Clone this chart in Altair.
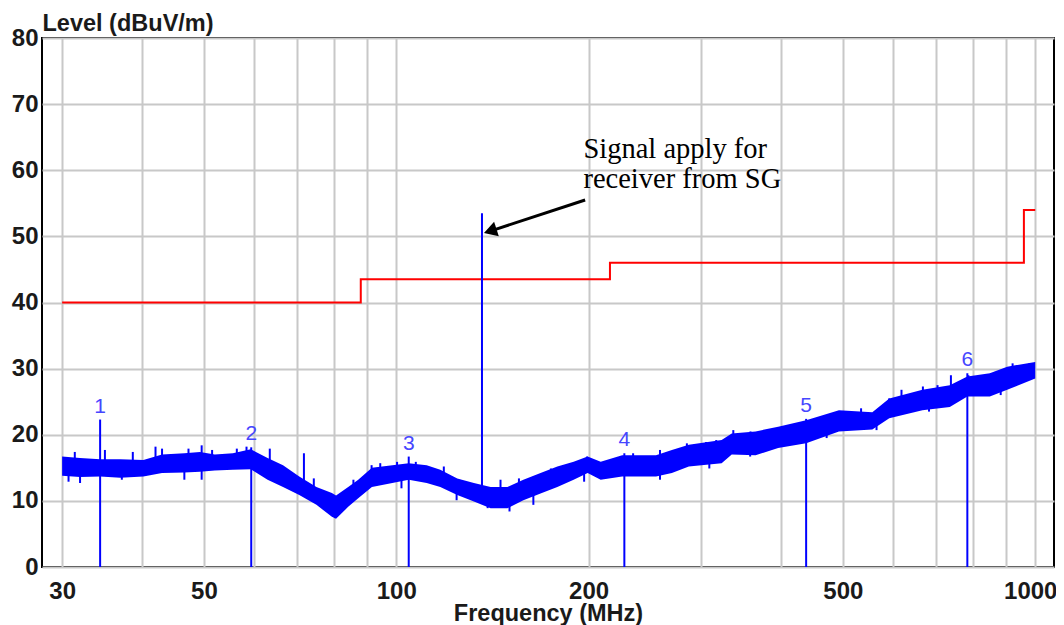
import altair as alt
import pandas as pd

# ---- data ----
trace_freq = [30, 32, 34.4, 37, 40.2, 43, 46.6, 49.3, 52, 55.5, 59.2, 62.9, 66.5, 70.5,
              75, 79.3, 80.5, 84.1, 87.2, 91.6, 98.6, 104.6, 111.6, 117.2, 124.6, 132.3,
              140.5, 149.3, 158.1, 168.2, 178.7, 189.5, 199.3, 208.9, 225.7, 255, 270,
              287, 323, 335, 365, 396, 438, 493, 556, 591, 666, 735, 783, 849, 904, 1000]
trace_low = [13.8, 13.6, 13.7, 13.5, 13.7, 14.2, 14.3, 14.4, 14.6, 14.7, 14.8, 13.2, 12.1, 10.9,
             9.4, 7.6, 7.3, 9.1, 10.4, 12.1, 12.7, 13.2, 12.7, 12.1, 10.9, 9.9,
             8.9, 8.9, 10.1, 11.1, 12.1, 13.2, 14.2, 13.2, 13.7, 13.7, 14.2,
             15.2, 15.7, 17.0, 16.9, 18.0, 18.7, 20.5, 20.8, 22.5, 23.7, 24.2, 25.8, 25.8, 26.8, 28.5]
trace_high = [16.7, 16.5, 16.3, 16.3, 16.2, 17.0, 17.2, 17.4, 17.0, 17.2, 17.8, 16.5, 15.4, 13.7,
              12.1, 11.2, 10.8, 12.1, 13.2, 15.0, 15.4, 15.7, 15.4, 14.7, 13.4, 12.7,
              12.1, 12.1, 13.2, 14.2, 15.2, 15.9, 16.7, 15.9, 16.9, 16.9, 17.7,
              18.5, 19.2, 20.2, 20.5, 21.2, 22.2, 23.7, 23.4, 25.5, 26.8, 27.5, 28.8, 29.3, 30.3, 31.0]

# noise spikes sticking out of the trace band (frequency, band centre, tip)
spike_freq = [31.4, 35.0, 38.7, 42.0, 43.0, 47.3, 49.6, 51.5, 56.3, 58.3, 63.4, 71.7,
              30.7, 32.0, 37.2, 46.6, 49.6,
              74.3, 85.7, 91.5, 94.4, 100.3, 107.3, 118.7, 145.6, 155.6, 165.0, 174.6,
              80.2, 101.9, 124.3, 139.0, 150.4, 163.9,
              182.6, 198.8, 217.3, 234.8, 258.7, 285, 305.4, 316.8, 336.9, 358.4, 395.6,
              196.8, 218.6, 258.7, 309, 358,
              502.5, 533.9, 590.7, 617.6, 667.1, 703.3, 738, 786, 866, 921.7, 979,
              471.6, 564.5, 682, 883]
spike_base = [15.2, 15.0, 15.0, 15.5, 15.6, 15.8, 15.9, 15.8, 16.0, 16.2, 14.8, 12.3,
              15.2, 15.1, 14.9, 15.7, 15.9,
              11.5, 10.6, 13.5, 14.0, 14.4, 14.4, 13.4, 10.4, 11.3, 12.3, 13.2,
              9.2, 14.4, 12.1, 10.5, 10.5, 12.2,
              14.0, 15.4, 14.8, 15.3, 15.3, 16.7, 17.2, 17.3, 18.6, 18.7, 19.6,
              15.4, 14.8, 15.3, 17.3, 18.7,
              22.1, 22.2, 24.0, 24.4, 25.2, 25.5, 26.0, 27.3, 27.7, 28.6, 29.5,
              21.5, 22.1, 25.3, 27.8]
spike_tip = [17.4, 17.7, 17.4, 18.2, 17.9, 17.9, 18.4, 17.7, 17.9, 18.2, 17.9, 17.2,
             12.9, 12.7, 13.2, 13.2, 13.2,
             13.4, 13.2, 15.4, 15.7, 15.9, 15.9, 15.2, 13.2, 13.4, 13.7, 14.9,
             7.4, 11.9, 10.1, 8.9, 8.4, 9.4,
             15.4, 16.7, 16.2, 17.2, 17.7, 18.7, 18.9, 19.2, 20.7, 20.5, 21.0,
             12.9, 13.7, 13.2, 14.9, 16.7,
             23.5, 24.0, 25.5, 26.8, 27.3, 27.5, 29.0, 29.0, 29.5, 30.8, 30.8,
             19.5, 20.7, 23.5, 26.0]

limit_freq = [30, 88, 216, 960, 1000]
limit_level = [40, 43.5, 46, 54, 54]

marker_label = ["1", "2", "3", "4", "5", "6"]
marker_freq = [34.4, 59.3, 104.6, 227.5, 438, 783]
marker_level = [22.3, 18.1, 16.7, 17.2, 22.4, 29.3]

signal_freq = [136.2]
signal_base = [11.0]
signal_top = [53.5]

note_lines = ["Signal apply for", "receiver from SG"]
note_freq = [196.3, 196.3]
note_level = [61.85, 57.3]
arrow_tail = (197.5, 55.5)
arrow_head = (140.3, 50.8)

x_grid = [30, 40, 50, 60, 70, 80, 90, 100, 200, 300, 400, 500, 600, 700, 800, 900, 1000]
x_labels = [30, 50, 100, 200, 500, 1000]
y_ticks = [0, 10, 20, 30, 40, 50, 60, 70, 80]

# ---- styling ----
BLUE = "#0000ff"
GRID = "#c8c8c8"
SANS = "Liberation Sans"
INK = "#1a1a1a"

xscale = alt.Scale(type="log", domain=[27.9, 1070], nice=False, zero=False)
yscale = alt.Scale(domain=[0, 80], nice=False, zero=True)

label_list = "[" + ",".join(str(v) for v in x_labels) + "]"
xaxis = alt.Axis(values=x_grid, grid=True, gridColor=GRID, gridWidth=2, ticks=False,
                 domain=False, labelFont=SANS, labelFontWeight="bold", labelFontSize=24,
                 labelColor=INK, labelPadding=12, labelFlush=False, labelOverlap=False,
                 labelOffset={"condition": {"test": "datum.value == 1000", "value": -5}, "value": 0},
                 labelExpr="indexof(" + label_list + ", datum.value) >= 0 ? '' + datum.value : ''",
                 title="Frequency (MHz)", titleFont=SANS, titleFontWeight="bold",
                 titleFontSize=23.5, titleColor=INK, titleBaseline="alphabetic",
                 titleY=53)
yaxis = alt.Axis(values=y_ticks, grid=True, gridColor=GRID, gridWidth=2, ticks=False,
                 domain=False, labelFont=SANS, labelFontWeight="bold", labelFontSize=24,
                 labelColor=INK, labelPadding=4,
                 title="Level (dBuV/m)", titleFont=SANS, titleFontWeight="bold",
                 titleFontSize=23.5, titleColor=INK, titleAngle=0, titleAlign="left",
                 titleBaseline="alphabetic", titleX=0, titleY=-8)


def X(field="f"):
    return alt.X(field, type="quantitative", scale=xscale, axis=xaxis)


def Y(field="v"):
    return alt.Y(field, type="quantitative", scale=yscale, axis=yaxis)


trace_df = pd.DataFrame({"f": trace_freq, "v": trace_low, "v2": trace_high})
spike_df = pd.DataFrame({"f": spike_freq, "v": spike_base, "v2": spike_tip})
limit_df = pd.DataFrame({"f": limit_freq, "v": limit_level})
marker_df = pd.DataFrame({"f": marker_freq, "v": marker_level, "lab": marker_label})
marker_df["zero"] = 0
signal_df = pd.DataFrame({"f": signal_freq, "v": signal_base, "v2": signal_top})
note_df = pd.DataFrame({"f": note_freq, "v": note_level, "t": note_lines})
arrow_df = pd.DataFrame({"f": [arrow_tail[0]], "v": [arrow_tail[1]],
                         "f2": [arrow_head[0]], "v2": [arrow_head[1]]})
head_df = pd.DataFrame({"f": [arrow_head[0]], "v": [arrow_head[1]]})

limit = alt.Chart(limit_df).mark_line(color="#ff0000", strokeWidth=2,
                                      interpolate="step-after").encode(x=X(), y=Y())

trace = alt.Chart(trace_df).mark_area(color=BLUE, opacity=1).encode(
    x=X(), y=Y(), y2=alt.Y2("v2"))

spikes = alt.Chart(spike_df).mark_rule(color=BLUE, strokeWidth=2).encode(
    x=X(), y=Y(), y2=alt.Y2("v2"))

signal = alt.Chart(signal_df).mark_rule(color=BLUE, strokeWidth=2).encode(
    x=X(), y=Y(), y2=alt.Y2("v2"))

markers = alt.Chart(marker_df).mark_rule(color=BLUE, strokeWidth=2).encode(
    x=X(), y=Y("zero"), y2=alt.Y2("v"))

marker_text = alt.Chart(marker_df).mark_text(
    color="#4646ff", font=SANS, fontSize=21, baseline="alphabetic", dy=-7
).encode(x=X(), y=Y(), text="lab:N")

note = alt.Chart(note_df).mark_text(
    font="Liberation Serif", fontSize=28.5, align="left", baseline="alphabetic", color="black"
).encode(x=X(), y=Y(), text="t:N")

arrow = alt.Chart(arrow_df).mark_rule(color="black", strokeWidth=3).encode(
    x=X(), y=Y(), x2=alt.X2("f2"), y2=alt.Y2("v2"))

head = alt.Chart(head_df).mark_point(
    shape="triangle-left", angle=342, size=230, filled=True, color="black", opacity=1
).encode(x=X(), y=Y())

chart = alt.layer(limit, trace, spikes, signal, markers, marker_text, note, arrow, head).properties(
    width=1012, height=529,
    autosize=alt.AutoSizeParams(type="none"),
    padding={"left": 34, "top": 30, "right": 2, "bottom": 58},
).configure(
    background="white",
    view=alt.ViewConfig(stroke="black", strokeWidth=2),
)

chart.save("out.html", embed_options={"renderer": "svg", "actions": False})
